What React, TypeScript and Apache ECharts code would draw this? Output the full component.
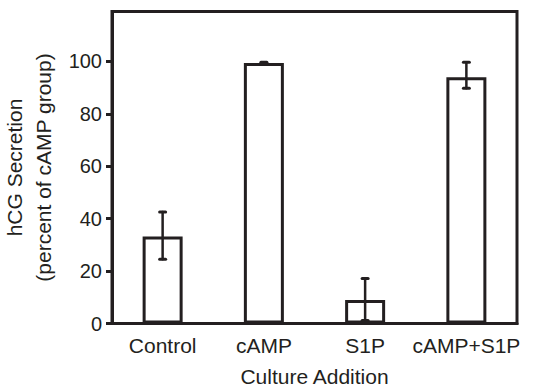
import React, { useEffect, useRef } from "react";
import * as echarts from "echarts";

const categories = ["Control", "cAMP", "S1P", "cAMP+S1P"];
const means = [33.2, 99.4, 9.0, 93.9];
const errLow = [24.5, 99.1, 1.1, 89.7];
const errHigh = [42.5, 99.6, 17.2, 99.6];
const yTicks = [0, 20, 40, 60, 80, 100];

const INK = "#231f20";
const FONT = "Liberation Sans, Arial, Helvetica, sans-serif";

export default function App() {
  const ref = useRef<HTMLDivElement>(null);
  useEffect(() => {
    if (!ref.current) return;
    const chart = echarts.init(ref.current, null, { renderer: "svg" });
    const errData = categories.map((_, i) => [i, errLow[i], errHigh[i]]);
    chart.setOption({
      animation: false,
      backgroundColor: "#ffffff",
      grid: {
        left: 112,
        right: 17,
        top: 11.5,
        bottom: 65.5,
        containLabel: false,
        outerBoundsMode: "none",
        show: true,
        borderColor: INK,
        borderWidth: 3,
        backgroundColor: "transparent",
      },
      xAxis: {
        type: "category",
        data: categories,
        name: "Culture Addition",
        nameLocation: "middle",
        nameGap: 42,
        nameTextStyle: { fontFamily: FONT, fontSize: 21, color: INK },
        axisLine: { show: true, lineStyle: { color: INK, width: 3 } },
        axisTick: { show: false },
        axisLabel: {
          fontFamily: FONT,
          fontSize: 21,
          color: INK,
          margin: 11,
          interval: 0,
        },
      },
      yAxis: {
        type: "value",
        min: 0,
        max: 119,
        interval: 20,
        name: "hCG Secretion\n(percent of cAMP group)",
        nameLocation: "middle",
        nameGap: 46,
        nameTextStyle: {
          fontFamily: FONT,
          fontSize: 21,
          color: INK,
          lineHeight: 29,
        },
        axisLine: { show: true, lineStyle: { color: INK, width: 3 } },
        axisTick: {
          show: true,
          length: 6,
          lineStyle: { color: INK, width: 3 },
          customValues: yTicks,
        },
        axisLabel: {
          fontFamily: FONT,
          fontSize: 20,
          color: INK,
          margin: 10,
          customValues: yTicks,
        },
        splitLine: { show: false },
      },
      series: [
        {
          type: "bar",
          data: means,
          barWidth: 40,
          itemStyle: { color: "#ffffff", borderColor: INK, borderWidth: 3 },
          z: 2,
        },
        {
          type: "custom",
          data: errData,
          z: 5,
          renderItem: (params: any, api: any) => {
            const x = api.coord([api.value(0), 0])[0];
            const yLo = api.coord([api.value(0), api.value(1)])[1];
            const yHi = api.coord([api.value(0), api.value(2)])[1];
            const cap = 3;
            const style = { stroke: INK, lineWidth: 2.5, lineCap: "round" };
            const capStyle = { stroke: INK, lineWidth: 3, lineCap: "round" };
            return {
              type: "group",
              children: [
                { type: "line", shape: { x1: x, y1: yLo, x2: x, y2: yHi }, style },
                { type: "line", shape: { x1: x - cap, y1: yHi, x2: x + cap, y2: yHi }, style: capStyle },
                { type: "line", shape: { x1: x - cap, y1: yLo, x2: x + cap, y2: yLo }, style: capStyle },
              ],
            };
          },
        },
      ],
    });
    return () => chart.dispose();
  }, []);
  return <div ref={ref} style={{ width: 534, height: 389, position: "absolute", left: 0, top: 0 }} />;
}
